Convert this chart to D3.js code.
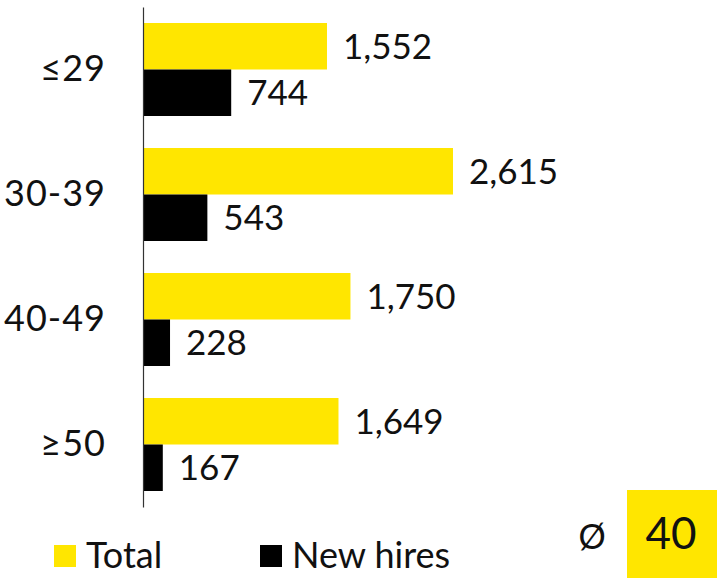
<!DOCTYPE html>
<html>
<head>
<meta charset="utf-8">
<script src="https://cdn.jsdelivr.net/npm/d3@7"></script>
<style>
  html, body { margin: 0; padding: 0; background: #fff; }
  svg { display: block; font-family: Lato, "Noto Sans", sans-serif; font-weight: 400; }
</style>
</head>
<body>
<svg id="chart" width="717" height="578"></svg>
<script>
// Employees by age group
const categories = ["≤29", "30-39", "40-49", "≥50"];
const seriesNames = ["Total", "New hires"];
const totalValues = [1552, 2615, 1750, 1649];
const newHireValues = [744, 543, 228, 167];
const averageAge = 40;

const colors = { "Total": "#FFE600", "New hires": "#000000" };

const rows = categories.map((c, i) => ({
  category: c,
  values: [
    { series: "Total", value: totalValues[i] },
    { series: "New hires", value: newHireValues[i] }
  ]
}));

const svg = d3.select("#chart");
const fmt = d3.format(",");

const x = d3.scaleLinear().domain([0, 2615]).range([143, 453]);
const y = d3.scaleBand().domain(categories).range([7, 507])
  .paddingInner(0.256).paddingOuter(0.128);
const ySub = d3.scaleBand().domain(seriesNames).range([0, y.bandwidth()]);

const groups = svg.append("g").selectAll("g")
  .data(rows).join("g")
  .attr("transform", d => `translate(0,${y(d.category)})`);

groups.selectAll("rect")
  .data(d => d.values).join("rect")
  .attr("x", x(0))
  .attr("y", d => ySub(d.series))
  .attr("width", d => x(d.value) - x(0))
  .attr("height", ySub.bandwidth())
  .attr("fill", d => colors[d.series]);

groups.selectAll("text.value")
  .data(d => d.values).join("text")
  .attr("class", "value")
  .attr("x", d => x(d.value) + 16)
  .attr("y", d => ySub(d.series) + ySub.bandwidth() / 2)
  .attr("dy", "0.36em")
  .attr("font-size", 35)
  .attr("fill", "#111")
  .text(d => fmt(d.value));

// Category axis
const yAxis = svg.append("g")
  .attr("transform", `translate(${x(0)},0)`)
  .call(d3.axisLeft(y).tickSize(0).tickPadding(37));
yAxis.select(".domain").attr("stroke", "#333").attr("stroke-width", 1.2);
yAxis.selectAll("text")
  .attr("font-size", 36)
  .attr("font-family", "Lato, 'Noto Sans', sans-serif")
  .attr("font-weight", 400)
  .attr("letter-spacing", 1)
  .attr("fill", "#111");

// Legend
const legendX = { "Total": 54, "New hires": 260 };
const legend = svg.append("g").selectAll("g")
  .data(seriesNames).join("g")
  .attr("transform", d => `translate(${legendX[d]},545)`);
legend.append("rect")
  .attr("width", 22).attr("height", 22)
  .attr("fill", d => colors[d]);
legend.append("text")
  .attr("x", 32).attr("y", 10).attr("dy", "0.36em")
  .attr("font-size", 36).attr("fill", "#111")
  .text(d => d);

// Average age badge
svg.append("text")
  .attr("x", 592).attr("y", 537).attr("dy", "0.36em")
  .attr("text-anchor", "middle")
  .attr("font-size", 34).attr("fill", "#111")
  .text("Ø");
svg.append("rect")
  .attr("x", 627).attr("y", 490).attr("width", 90).attr("height", 88)
  .attr("fill", colors["Total"]);
svg.append("text")
  .attr("x", 671).attr("y", 533).attr("dy", "0.36em")
  .attr("text-anchor", "middle")
  .attr("font-size", 44).attr("fill", "#111")
  .text(averageAge);
</script>
</body>
</html>
